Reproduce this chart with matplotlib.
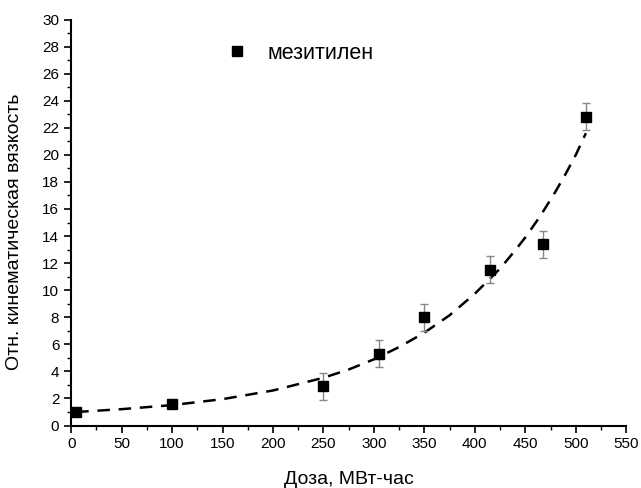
import numpy as np
import matplotlib.pyplot as plt
from matplotlib.ticker import MultipleLocator

plt.rcParams['font.family'] = ['Liberation Sans', 'DejaVu Sans']

# Экспериментальные точки
doza = [5, 100, 250, 305, 350, 415, 468, 510]
vyazkost = [1.03, 1.6, 2.9, 5.3, 8.0, 11.5, 13.4, 22.8]
oshibka = [0.0, 0.0, 1.0, 1.0, 1.0, 1.0, 1.0, 1.0]

# Кривая аппроксимации
doza_fit = [5, 50, 100, 150, 200, 250, 275, 300, 325, 350, 375, 400,
            425, 440, 450, 465, 480, 490, 500, 510]
vyazkost_fit = [1.0, 1.21, 1.51, 1.95, 2.59, 3.53, 4.14, 4.89, 5.8, 6.86,
                8.15, 9.74, 11.6, 12.95, 13.9, 15.5, 17.3, 18.6, 20.0, 21.6]

fig = plt.figure(figsize=(6.41, 4.88), dpi=100)
ax = fig.add_axes([0.111, 0.128, 0.866, 0.832])

ax.plot(doza_fit, vyazkost_fit, color='black', lw=1.8, ls=(0, (5, 3.5)))
ax.errorbar(doza, vyazkost, yerr=oshibka, fmt='none', ecolor='#888888',
            elinewidth=1, capsize=3, capthick=1)
ax.plot(doza, vyazkost, 's', color='black', markersize=6.5, label='мезитилен')

ax.set_xlim(0, 550)
ax.set_ylim(0, 30)
ax.xaxis.set_major_locator(MultipleLocator(50))
ax.xaxis.set_minor_locator(MultipleLocator(25))
ax.yaxis.set_major_locator(MultipleLocator(2))
ax.yaxis.set_minor_locator(MultipleLocator(1))
ax.spines['top'].set_visible(False)
ax.spines['right'].set_visible(False)
ax.spines['left'].set_linewidth(1.5)
ax.spines['bottom'].set_linewidth(1.5)
ax.tick_params(which='major', direction='out', length=5, width=1.2, labelsize=11)
ax.tick_params(which='minor', direction='out', length=3, width=1.0)

ax.set_xlabel('Доза, МВт-час', fontsize=14, labelpad=14)
ax.set_ylabel('Отн. кинематическая вязкость', fontsize=14)
ax.yaxis.set_label_coords(-0.087, 0.478)

ax.legend(loc='center left', bbox_to_anchor=(0.345, 0.891),
          bbox_transform=fig.transFigure, frameon=False, fontsize=15.5,
          handletextpad=0.65, handlelength=1.5, borderpad=0, borderaxespad=0)

fig.savefig('out.png', dpi=100)
